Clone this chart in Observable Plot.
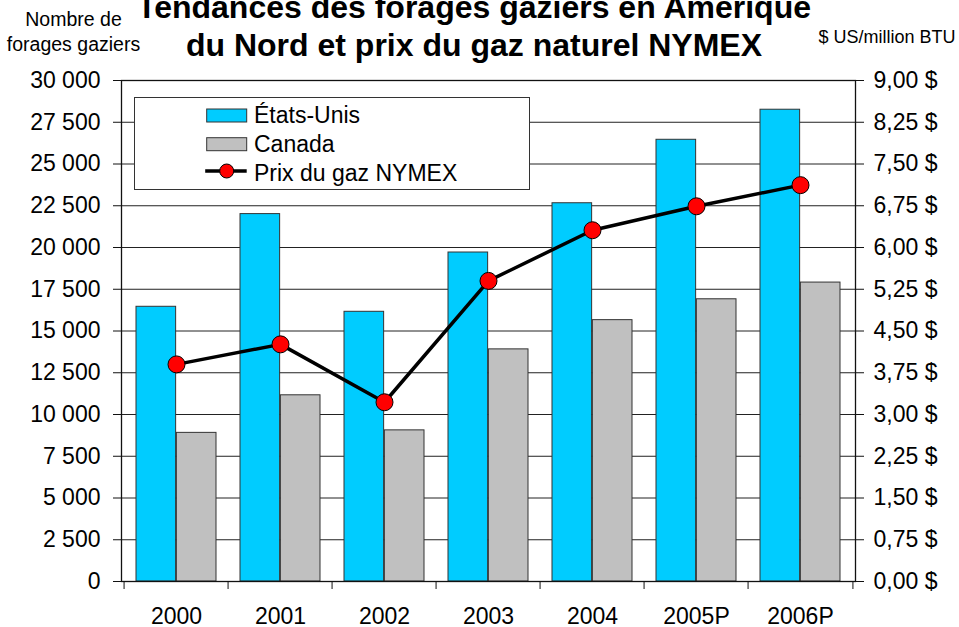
<!DOCTYPE html>
<html>
<head>
<meta charset="utf-8">
<script src="https://cdn.jsdelivr.net/npm/d3@7"></script>
<script src="https://cdn.jsdelivr.net/npm/@observablehq/plot@0.6"></script>
<style>
  html, body { margin: 0; padding: 0; background: #fff; overflow: hidden; }
  #wrap { position: relative; width: 959px; height: 627px; font-family: "Liberation Sans", Arial, sans-serif; }
  .lbl { position: absolute; white-space: nowrap; text-align: center; color: #000; }
</style>
</head>
<body>
<div id="wrap">
  <div class="lbl" id="title" style="left:24px; top:-11px; width:900px; font-size:32px; font-weight:bold; line-height:37.7px;">Tendances des forages gaziers en Amérique<br>du Nord et prix du gaz naturel NYMEX</div>
  <div class="lbl" style="left:0px; top:7.4px; width:147px; font-size:19.5px; line-height:25px;">Nombre de<br>forages gaziers</div>
  <div class="lbl" style="left:812px; top:28px; width:150px; font-size:18px; line-height:18px;">$ US/million BTU</div>
</div>
<script>
// ---- data ----
const years = ["2000", "2001", "2002", "2003", "2004", "2005P", "2006P"];
const usWells = [16450, 22000, 16150, 19700, 22650, 26450, 28250];
const canadaWells = [8900, 11150, 9050, 13900, 15650, 16900, 17900];
const nymexPrice = [3.90, 4.26, 3.22, 5.40, 6.31, 6.74, 7.12];
const leftTicks = [0, 2500, 5000, 7500, 10000, 12500, 15000, 17500, 20000, 22500, 25000, 27500, 30000];
const priceMax = 9;
const wellsMax = 30000;
const seriesNames = ["États-Unis", "Canada", "Prix du gaz NYMEX"];
const colors = { us: "#00CCFF", ca: "#C0C0C0", price: "#FF0000" };

const k = wellsMax / priceMax;
const data = years.map((year, i) => ({ year, us: usWells[i], ca: canadaWells[i], price: nymexPrice[i] }));

const W = 959, H = 627, mL = 121, mR = 104, mT = 80, mB = 46;
const pIn = 0.23, pOut = 0.115;
const step = (W - mL - mR) / (years.length - pIn + 2 * pOut);
const bw = step * (1 - pIn);

const loc = d3.formatLocale({ decimal: ",", thousands: " ", grouping: [3], currency: ["", " $"] });
const fmtWells = loc.format(",");
const fmtPrice = d => (d / k).toFixed(2).replace(".", ",") + " $";

const plot = Plot.plot({
  width: W, height: H,
  marginLeft: mL, marginRight: mR, marginTop: mT, marginBottom: mB,
  style: { fontFamily: "Liberation Sans, Arial, sans-serif", fontSize: "23px", background: "white", color: "#000", overflow: "visible" },
  x: { type: "band", domain: years, paddingInner: pIn, paddingOuter: pOut },
  y: { domain: [0, wellsMax] },
  marks: [
    Plot.gridY(leftTicks, { stroke: "#222", strokeOpacity: 1, strokeWidth: 1 }),
    Plot.barY(data, { x: "year", y: "us", fill: colors.us, stroke: "#333", strokeWidth: 1, insetRight: bw / 2 }),
    Plot.barY(data, { x: "year", y: "ca", fill: colors.ca, stroke: "#333", strokeWidth: 1, insetLeft: bw / 2 }),
    Plot.frame({ stroke: "#111", strokeWidth: 1.3 }),
    Plot.axisY({ anchor: "left", ticks: leftTicks, tickSize: 8, tickPadding: 13, tickFormat: fmtWells, label: null, stroke: "#111" }),
    Plot.axisY({ anchor: "right", ticks: leftTicks, tickSize: 8, tickPadding: 10, tickFormat: fmtPrice, label: null, stroke: "#111" }),
    Plot.axisX({ ticks: years, tickSize: 8, text: null, dx: -step / 2, label: null, stroke: "#111" }),
    Plot.axisX({ ticks: [years[years.length - 1]], tickSize: 8, text: null, dx: step / 2, label: null, stroke: "#111" }),
    Plot.axisX({ ticks: years, tickSize: 0, tickPadding: 26, label: null }),
    Plot.line(data, { x: "year", y: d => d.price * k, stroke: "#000", strokeWidth: 3.5 }),
    Plot.dot(data, { x: "year", y: d => d.price * k, r: 8.5, fill: colors.price, stroke: "#000", strokeWidth: 1 })
  ]
});
const wrap = document.getElementById("wrap");
plot.style.position = "absolute";
plot.style.left = "0px";
plot.style.top = "0px";
wrap.insertBefore(plot, wrap.firstChild);

// ---- legend ----
const lg = d3.select(wrap).append("svg")
  .attr("width", 396).attr("height", 93)
  .style("position", "absolute").style("left", "134px").style("top", "97px")
  .style("font-family", "Liberation Sans, Arial, sans-serif").style("font-size", "23px");
lg.append("rect").attr("x", 0.5).attr("y", 0.5).attr("width", 395).attr("height", 92)
  .attr("fill", "white").attr("stroke", "#333");
const sx = 72.7, tx = 120;
lg.append("rect").attr("x", sx).attr("y", 12).attr("width", 40).attr("height", 13)
  .attr("fill", colors.us).attr("stroke", "#333");
lg.append("rect").attr("x", sx).attr("y", 40.7).attr("width", 40).attr("height", 13)
  .attr("fill", colors.ca).attr("stroke", "#333");
lg.append("line").attr("x1", sx - 1.5).attr("x2", sx + 40).attr("y1", 74).attr("y2", 74)
  .attr("stroke", "#000").attr("stroke-width", 3.5);
lg.append("circle").attr("cx", sx + 20).attr("cy", 74).attr("r", 7)
  .attr("fill", colors.price).attr("stroke", "#000");
const baselines = [26.3, 54.7, 83.5];
seriesNames.forEach((n, i) => {
  lg.append("text").attr("x", tx).attr("y", baselines[i]).text(n);
});
</script>
</body>
</html>
